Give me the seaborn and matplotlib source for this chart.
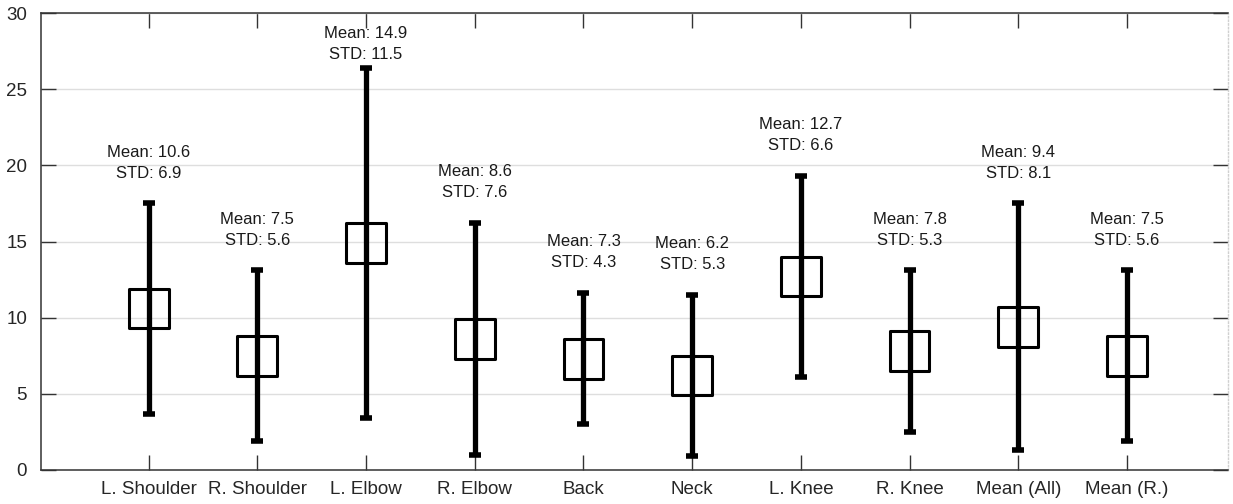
import numpy as np
import pandas as pd
import matplotlib
matplotlib.use("Agg")
import matplotlib.pyplot as plt
import seaborn as sns

categories = ["L. Shoulder", "R. Shoulder", "L. Elbow", "R. Elbow", "Back",
              "Neck", "L. Knee", "R. Knee", "Mean (All)", "Mean (R.)"]
means = [10.6, 7.5, 14.9, 8.6, 7.3, 6.2, 12.7, 7.8, 9.4, 7.5]
stds = [6.9, 5.6, 11.5, 7.6, 4.3, 5.3, 6.6, 5.3, 8.1, 5.6]
yticks = [0, 5, 10, 15, 20, 25, 30]

sns.set_style("white")
plt.rcParams['font.family'] = ['Liberation Sans', 'DejaVu Sans']

df = pd.DataFrame({"cat": categories, "mean": means, "std": stds})
df["x"] = np.arange(len(df))

fig = plt.figure(figsize=(12.33, 5.04), dpi=100)
ax = fig.add_axes([0.0333, 0.0675, 0.9627, 0.9065])

ax.errorbar(df["x"], df["mean"], yerr=df["std"], fmt="none", ecolor="black",
            elinewidth=3.8, capsize=4, capthick=4, zorder=3)
sns.scatterplot(data=df, x="x", y="mean", marker="s", s=820, facecolor="none",
                edgecolor="black", linewidth=2.2, ax=ax, zorder=4, legend=False)

for xi, m, s in zip(df["x"], df["mean"], df["std"]):
    ytxt = min(m + s + 1.5, 26.8)
    ax.text(xi, ytxt, f"Mean: {m}\nSTD: {s}", ha="center", va="bottom",
            fontsize=12, color="#1a1a1a", linespacing=1.5, zorder=5)

ax.set_xlim(-0.99, 9.93)
ax.set_ylim(0, 30)
ax.set_xticks(df["x"])
ax.set_xticklabels(categories)
ax.set_yticks(yticks)
ax.set_xlabel("")
ax.set_ylabel("")
ax.yaxis.grid(True, color="#dedede", linewidth=1)
ax.xaxis.grid(False)
ax.set_axisbelow(True)

ax.tick_params(axis="both", direction="in", length=11, width=1, color="#333333",
               labelsize=13.5, labelcolor="#262626", top=True, right=True,
               bottom=True, left=True)
ax.tick_params(axis="x", pad=8)
ax.tick_params(axis="y", pad=10)
for side in ["left", "top", "bottom"]:
    ax.spines[side].set_visible(True)
    ax.spines[side].set_color("#333333")
    ax.spines[side].set_linewidth(1.1)
ax.spines["right"].set_visible(True)
ax.spines["right"].set_color("#d0d0d0")
ax.spines["right"].set_linestyle(":")
ax.spines["right"].set_linewidth(1)

fig.savefig("out.png", dpi=100)
